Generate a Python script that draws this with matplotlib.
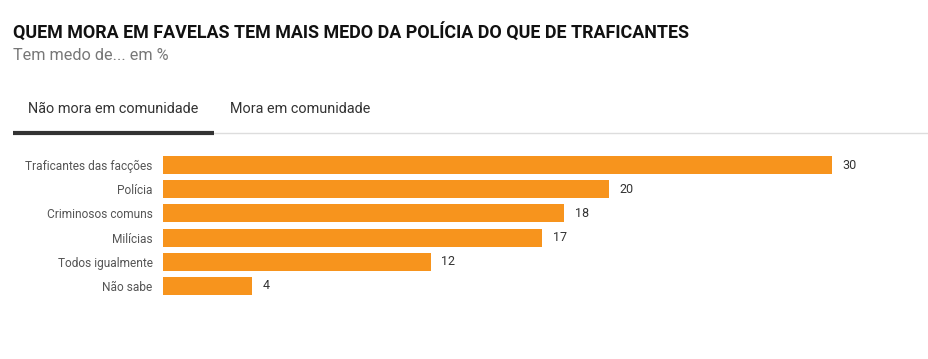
import matplotlib.pyplot as plt
from matplotlib.lines import Line2D

categories = ["Traficantes das facções", "Polícia", "Criminosos comuns",
              "Milícias", "Todos igualmente", "Não sabe"]
values = [30, 20, 18, 17, 12, 4]
tabs = ["Não mora em comunidade", "Mora em comunidade"]

W, H = 929, 359
BAR_COLOR = "#f7941d"

plt.rcParams['font.family'] = ['Roboto', 'DejaVu Sans']

fig = plt.figure(figsize=(W / 100, H / 100), dpi=100)
fig.patch.set_facecolor("white")

def fx(px):
    return px / W

def fy(py):
    return 1 - py / H

# title and subtitle
fig.text(fx(13), fy(33), "QUEM MORA EM FAVELAS TEM MAIS MEDO DA POLÍCIA DO QUE DE TRAFICANTES",
         fontsize=12.9, fontweight="bold", color="#111111", va="center", ha="left")
fig.text(fx(13), fy(55), "Tem medo de... em %", fontsize=11.7, color="#777777",
         va="center", ha="left")

# tabs
fig.text(fx(28), fy(109), tabs[0], fontsize=10.4, color="#333333", va="center", ha="left")
fig.text(fx(230), fy(109), tabs[1], fontsize=10.4, color="#333333", va="center", ha="left")
fig.add_artist(Line2D([fx(214), fx(944)], [fy(133.5), fy(133.5)], color="#dddddd", lw=1))
fig.add_artist(Line2D([fx(13), fx(214)], [fy(132.5), fy(132.5)], color="#333333", lw=3,
                      solid_capstyle="butt"))

# bars
ax = fig.add_axes([fx(163), fy(298), fx(832) - fx(163), (298 - 153) / H])
ypos = list(range(len(categories)))
ax.barh(ypos, values, height=0.74, color=BAR_COLOR)
ax.set_xlim(0, 30)
ax.set_ylim(len(categories) - 0.5, -0.5)
for y, v in zip(ypos, values):
    ax.annotate(str(v), (v, y), xytext=(7.5, 0), textcoords="offset points",
                va="center", ha="left", fontsize=9, color="#333333",
                annotation_clip=False)
ax.set_yticks(ypos)
ax.set_yticklabels(categories, fontsize=8.6, color="#555555")
ax.tick_params(axis="y", length=0, pad=7.5)
ax.set_xticks([])
for s in ax.spines.values():
    s.set_visible(False)

fig.savefig("out.png", dpi=100)
